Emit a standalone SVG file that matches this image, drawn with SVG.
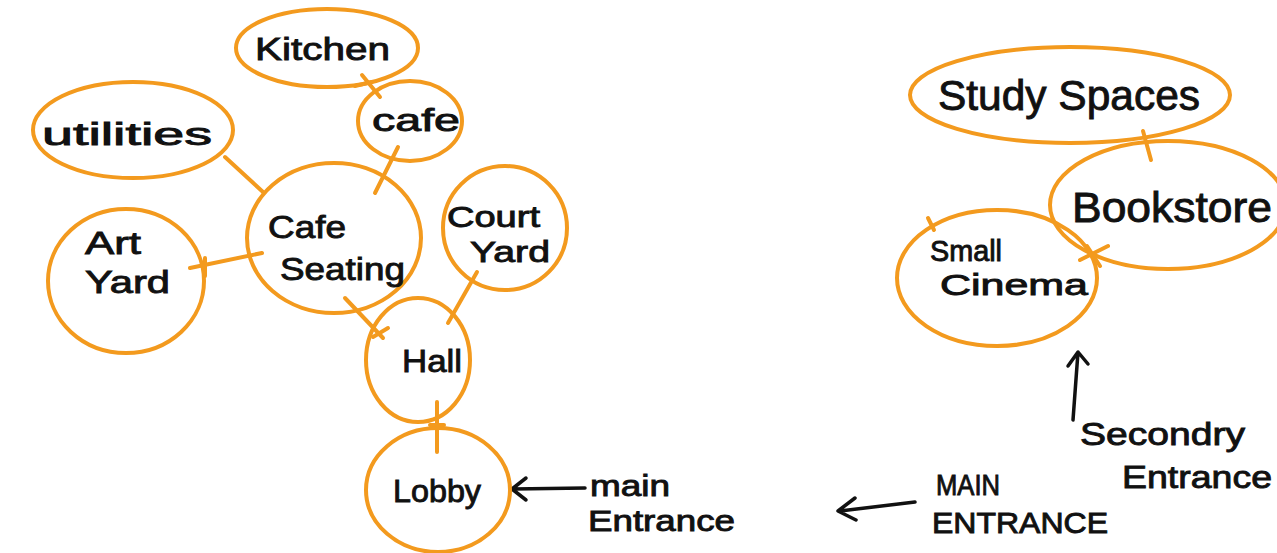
<svg xmlns="http://www.w3.org/2000/svg" width="1277" height="553" viewBox="0 0 1277 553">
<style>
.n{fill:none;stroke:#F39A1E;stroke-width:4}
.c{stroke:#F39A1E;stroke-width:4;fill:none;stroke-linecap:round}
.k{stroke:#111;stroke-width:3.5;fill:none;stroke-linecap:round;stroke-linejoin:round}
text{font-family:"Liberation Sans",Arial,sans-serif;fill:#111;stroke:#111;stroke-width:0.9px}
.t{font-size:32px}
.s{font-size:29px}
.b{font-size:42px}
</style>
<rect width="1277" height="553" fill="#fff"/>
<g id="connectors">
<line class="c" x1="362" y1="75" x2="380" y2="97"/>
<line class="c" x1="355" y1="86" x2="372" y2="82"/>
<line class="c" x1="398" y1="147" x2="375" y2="193"/>
<line class="c" x1="225" y1="157" x2="263" y2="192"/>
<line class="c" x1="190" y1="268" x2="262" y2="253"/>
<line class="c" x1="205" y1="258" x2="205" y2="276"/>
<line class="c" x1="345" y1="298" x2="383" y2="338"/>
<line class="c" x1="373" y1="337" x2="388" y2="328"/>
<line class="c" x1="477" y1="272" x2="448" y2="323"/>
<line class="c" x1="437" y1="402" x2="437" y2="452"/>
<line class="c" x1="430" y1="425" x2="444" y2="425"/>
<line class="c" x1="1143" y1="131" x2="1151" y2="160"/>
<line class="c" x1="1080" y1="260" x2="1108" y2="246"/>
<line class="c" x1="1087" y1="246" x2="1100" y2="266"/>
<line class="c" x1="928" y1="218" x2="934" y2="230"/>
<path class="k" d="M585 488 L513 489 M526 478 L512 489 L526 500"/>
<path class="k" d="M1073 420 L1078 352 M1068 366 L1078 352 L1088 364"/>
<path class="k" d="M915 502 L840 511 M855 498 L838 511 L856 520"/>
</g>
<g id="kitchen"><ellipse class="n" cx="327" cy="48" rx="91" ry="39"/><text class="t" x="255" y="60" textLength="135" lengthAdjust="spacingAndGlyphs">Kitchen</text></g>
<g id="cafe"><ellipse class="n" cx="410" cy="121" rx="52" ry="40"/><text class="t" x="372" y="131" textLength="88" lengthAdjust="spacingAndGlyphs">cafe</text></g>
<g id="utilities"><ellipse class="n" cx="133" cy="130" rx="100" ry="48"/><text class="t" x="42" y="145" textLength="170" lengthAdjust="spacingAndGlyphs">utilities</text></g>
<g id="cafe-seating"><ellipse class="n" cx="334" cy="238" rx="87" ry="75"/><text class="t" x="268" y="238" textLength="78" lengthAdjust="spacingAndGlyphs">Cafe</text><text class="t" x="280" y="280" textLength="125" lengthAdjust="spacingAndGlyphs">Seating</text></g>
<g id="art-yard"><ellipse class="n" cx="126" cy="281" rx="78" ry="72"/><text class="t" x="85" y="254" textLength="56" lengthAdjust="spacingAndGlyphs">Art</text><text class="t" x="85" y="293" textLength="85" lengthAdjust="spacingAndGlyphs">Yard</text></g>
<g id="court-yard"><ellipse class="n" cx="505" cy="228" rx="62" ry="62"/><text class="s" x="447" y="227" textLength="93" lengthAdjust="spacingAndGlyphs">Court</text><text class="s" x="470" y="262" textLength="80" lengthAdjust="spacingAndGlyphs">Yard</text></g>
<g id="hall"><ellipse class="n" cx="418" cy="360" rx="52" ry="62"/><text class="t" x="402" y="372" textLength="60" lengthAdjust="spacingAndGlyphs">Hall</text></g>
<g id="lobby"><ellipse class="n" cx="438" cy="490" rx="72" ry="62"/><text class="t" x="393" y="502" textLength="88" lengthAdjust="spacingAndGlyphs">Lobby</text></g>
<g id="main-entrance-1"><text class="s" x="590" y="496" textLength="80" lengthAdjust="spacingAndGlyphs">main</text><text class="s" x="588" y="531" textLength="147" lengthAdjust="spacingAndGlyphs">Entrance</text></g>
<g id="study-spaces"><ellipse class="n" cx="1070" cy="95" rx="160" ry="48"/><text class="b" x="938" y="110" textLength="262" lengthAdjust="spacingAndGlyphs">Study Spaces</text></g>
<g id="bookstore"><ellipse class="n" cx="1168" cy="205" rx="118" ry="64"/><text class="b" x="1072" y="222" textLength="200" lengthAdjust="spacingAndGlyphs">Bookstore</text></g>
<g id="small-cinema"><ellipse class="n" cx="997" cy="278" rx="100" ry="68"/><text class="s" x="930" y="261" textLength="72" lengthAdjust="spacingAndGlyphs">Small</text><text class="s" x="940" y="295" textLength="148" lengthAdjust="spacingAndGlyphs">Cinema</text></g>
<g id="secondary-entrance"><text class="t" x="1080" y="445" textLength="165" lengthAdjust="spacingAndGlyphs">Secondry</text><text class="t" x="1122" y="488" textLength="150" lengthAdjust="spacingAndGlyphs">Entrance</text></g>
<g id="main-entrance-2"><text class="s" x="936" y="495" textLength="64" lengthAdjust="spacingAndGlyphs">MAIN</text><text class="s" x="932" y="533" textLength="176" lengthAdjust="spacingAndGlyphs">ENTRANCE</text></g>
</svg>
